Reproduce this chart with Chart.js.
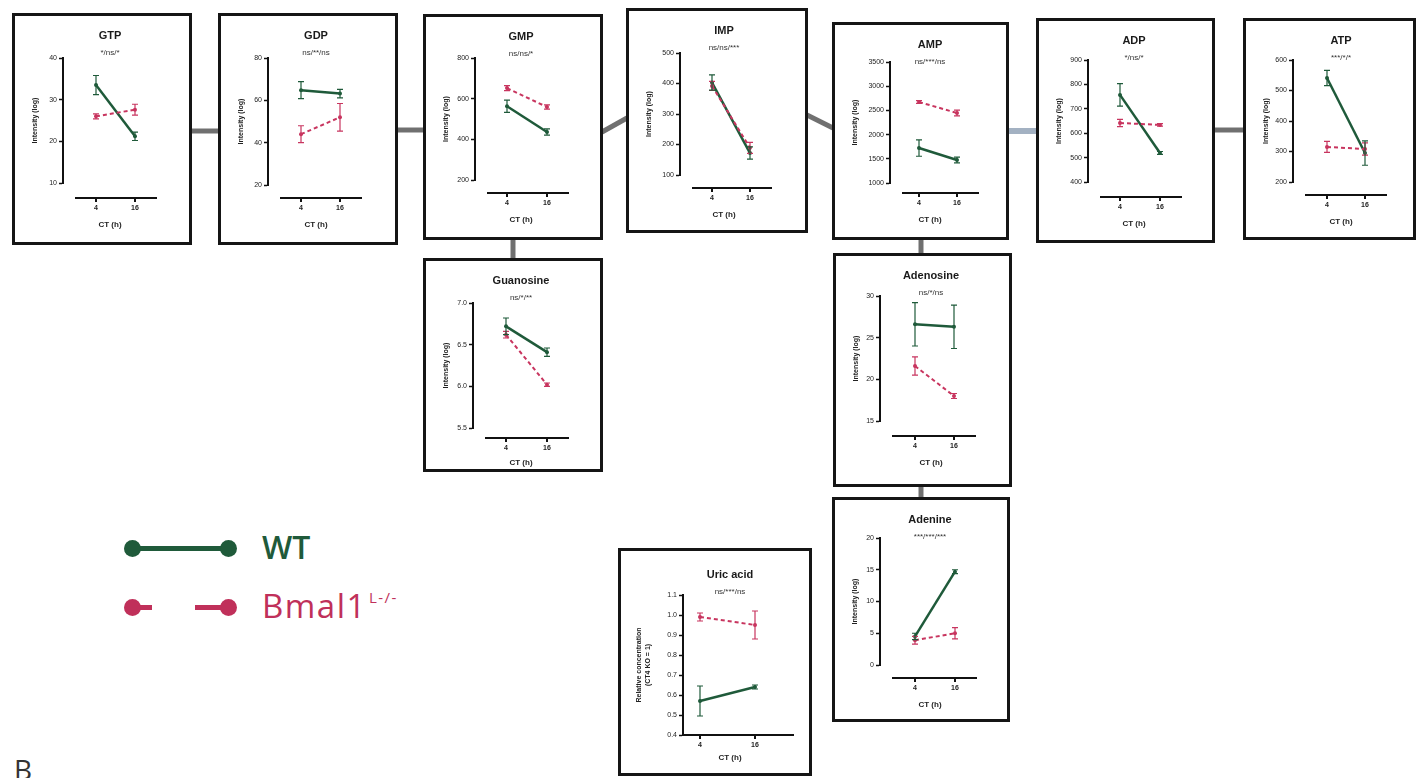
<!doctype html>
<html lang="en">
<head>
<meta charset="utf-8">
<title>Purine metabolites, WT vs Bmal1 KO</title>
<style>
  * { margin: 0; padding: 0; }
  body {
    width: 1424px; height: 778px; position: relative; overflow: hidden;
    background: #fff; font-family: Arial, "Liberation Sans", sans-serif;
  }
  .panel {
    position: absolute; box-sizing: border-box;
    border: 3px solid #151515; background: #fff;
  }
  .panel canvas { display: block; }
  #links { position: absolute; left: 0; top: 0; }
  .lgline { position: absolute; height: 5px; }
  .lgdot { position: absolute; width: 17px; height: 17px; border-radius: 50%; }
  .lgtext { position: absolute; font-family: "Open Sans", sans-serif; line-height: 1; white-space: nowrap; }
  .lgtext sup { font-size: 15px; vertical-align: 15px; margin-left: 2px; }
  .letter { position: absolute; left: 14px; top: 755px; font-family: "Open Sans", sans-serif; font-size: 28px; line-height: 1; color: #333; }
</style>
</head>
<body>

<svg id="links" width="1424" height="778">
  <g stroke="#707070" stroke-width="5">
    <line x1="192" y1="131" x2="219" y2="131"/>
    <line x1="397" y1="130" x2="424" y2="130"/>
    <line x1="602" y1="132" x2="627" y2="118"/>
    <line x1="807" y1="115" x2="833" y2="128"/>
    <line x1="1214" y1="130" x2="1244" y2="130"/>
    <line x1="513" y1="239" x2="513" y2="259"/>
    <line x1="921" y1="239" x2="921" y2="254"/>
    <line x1="921" y1="486" x2="921" y2="498"/>
  </g>
  <line x1="1008" y1="131" x2="1037" y2="131" stroke="#a3b1c2" stroke-width="6"/>
</svg>

<div id="panels"></div>

<!-- legend -->
<div class="lgline" style="left:133px; top:546px; width:95px; background:#1f5a3a"></div>
<div class="lgdot" style="left:124px; top:540px; background:#1f5a3a"></div>
<div class="lgdot" style="left:220px; top:540px; background:#1f5a3a"></div>
<div class="lgtext" style="left:262px; top:531px; font-size:32px; font-weight:600; color:#1f5a3a">WT</div>

<div class="lgline" style="left:133px; top:605px; width:19px; background:#c0305a"></div>
<div class="lgline" style="left:195px; top:605px; width:33px; background:#c0305a"></div>
<div class="lgdot" style="left:124px; top:599px; background:#c0305a"></div>
<div class="lgdot" style="left:220px; top:599px; background:#c0305a"></div>
<div class="lgtext" style="left:262px; top:589px; font-size:33px; letter-spacing:1.5px; color:#c0305a">Bmal1<sup>L-/-</sup></div>

<div class="letter">B</div>

<script src="https://cdn.jsdelivr.net/npm/chart.js"></script>
<script>
// ---- data ----
const hours = [4, 16];

const gtpTicks = [10, 20, 30, 40];
const gtpWT = [33.5, 21.2], gtpWTerr = [2.3, 1.0];
const gtpKO = [26.0, 27.6], gtpKOerr = [0.6, 1.3];

const gdpTicks = [20, 40, 60, 80];
const gdpWT = [64.8, 63.2], gdpWTerr = [4.0, 2.0];
const gdpKO = [44.0, 52.0], gdpKOerr = [4.0, 6.5];

const gmpTicks = [200, 400, 600, 800];
const gmpWT = [563, 436], gmpWTerr = [30, 15];
const gmpKO = [652, 559], gmpKOerr = [12, 10];

const impTicks = [100, 200, 300, 400, 500];
const impWT = [403, 172], impWTerr = [25, 20];
const impKO = [392, 189], impKOerr = [15, 18];

const ampTicks = [1000, 1500, 2000, 2500, 3000, 3500];
const ampWT = [1723, 1475], ampWTerr = [170, 60];
const ampKO = [2674, 2446], ampKOerr = [30, 60];

const adpTicks = [400, 500, 600, 700, 800, 900];
const adpWT = [757, 519], adpWTerr = [46, 6];
const adpKO = [642, 634], adpKOerr = [15, 5];

const atpTicks = [200, 300, 400, 500, 600];
const atpWT = [541, 295], atpWTerr = [25, 40];
const atpKO = [315, 308], atpKOerr = [18, 20];

const guoTicks = [5.5, 6.0, 6.5, 7.0];
const guoWT = [6.72, 6.41], guoWTerr = [0.10, 0.05];
const guoKO = [6.62, 6.02], guoKOerr = [0.04, 0.02];

const adoTicks = [15, 20, 25, 30];
const adoWT = [26.6, 26.3], adoWTerr = [2.6, 2.6];
const adoKO = [21.6, 18.0], adoKOerr = [1.1, 0.3];

const adeTicks = [0, 5, 10, 15, 20];
const adeWT = [4.5, 14.7], adeWTerr = [0.5, 0.3];
const adeKO = [3.9, 5.0], adeKOerr = [0.6, 0.9];

const uricTicks = [0.4, 0.5, 0.6, 0.7, 0.8, 0.9, 1.0, 1.1];
const uricWT = [0.57, 0.64], uricWTerr = [0.075, 0.01];
const uricKO = [0.99, 0.95], uricKOerr = [0.02, 0.07];

const WT_COLOR = '#1f5a3a';
const KO_COLOR = '#c8355f';

// panel boxes and inner geometry (canvas px)
const panels = [
  { title: 'GTP', sig: '*/ns/*', ticks: gtpTicks, dec: 0, wt: gtpWT, wtErr: gtpWTerr, ko: gtpKO, koErr: gtpKOerr,
    box: [12, 13, 180, 232], top: 42, bottom: 167, axX: 48, x4: 81, x16: 120, xGap: 15 },
  { title: 'GDP', sig: 'ns/**/ns', ticks: gdpTicks, dec: 0, wt: gdpWT, wtErr: gdpWTerr, ko: gdpKO, koErr: gdpKOerr,
    box: [218, 13, 180, 232], top: 42, bottom: 169, axX: 47, x4: 80, x16: 119, xGap: 13 },
  { title: 'GMP', sig: 'ns/ns/*', ticks: gmpTicks, dec: 0, wt: gmpWT, wtErr: gmpWTerr, ko: gmpKO, koErr: gmpKOerr,
    box: [423, 14, 180, 226], top: 41, bottom: 163, axX: 49, x4: 81, x16: 121, xGap: 13 },
  { title: 'IMP', sig: 'ns/ns/***', ticks: impTicks, dec: 0, wt: impWT, wtErr: impWTerr, ko: impKO, koErr: impKOerr,
    box: [626, 8, 182, 225], top: 42, bottom: 164, axX: 51, x4: 83, x16: 121, xGap: 13 },
  { title: 'AMP', sig: 'ns/***/ns', ticks: ampTicks, dec: 0, wt: ampWT, wtErr: ampWTerr, ko: ampKO, koErr: ampKOerr,
    box: [832, 22, 177, 218], top: 37, bottom: 158, axX: 55, x4: 84, x16: 122, xGap: 10 },
  { title: 'ADP', sig: '*/ns/*', ticks: adpTicks, dec: 0, wt: adpWT, wtErr: adpWTerr, ko: adpKO, koErr: adpKOerr,
    box: [1036, 18, 179, 225], top: 39, bottom: 161, axX: 49, x4: 81, x16: 121, xGap: 15 },
  { title: 'ATP', sig: '***/*/*', ticks: atpTicks, dec: 0, wt: atpWT, wtErr: atpWTerr, ko: atpKO, koErr: atpKOerr,
    box: [1243, 18, 173, 222], top: 39, bottom: 161, axX: 47, x4: 81, x16: 119, xGap: 13 },
  { title: 'Guanosine', sig: 'ns/*/**', ticks: guoTicks, dec: 1, wt: guoWT, wtErr: guoWTerr, ko: guoKO, koErr: guoKOerr,
    box: [423, 258, 180, 214], top: 42, bottom: 167, axX: 47, x4: 80, x16: 121, xGap: 10, ctGap: 25 },
  { title: 'Adenosine', sig: 'ns/*/ns', ticks: adoTicks, dec: 0, wt: adoWT, wtErr: adoWTerr, ko: adoKO, koErr: adoKOerr,
    box: [833, 253, 179, 234], top: 40, bottom: 165, axX: 44, x4: 79, x16: 118, xGap: 15 },
  { title: 'Adenine', sig: '***/***/***', ticks: adeTicks, dec: 0, wt: adeWT, wtErr: adeWTerr, ko: adeKO, koErr: adeKOerr,
    box: [832, 497, 178, 225], top: 38, bottom: 165, axX: 45, x4: 80, x16: 120, xGap: 13 },
  { title: 'Uric acid', sig: 'ns/***/ns', ticks: uricTicks, dec: 1, wt: uricWT, wtErr: uricWTerr, ko: uricKO, koErr: uricKOerr,
    box: [618, 548, 194, 228], top: 44, bottom: 184, axX: 62, x4: 79, x16: 134, xGap: 0, ctGap: 23,
    attached: true, titleX: 109, titleY: 24, padLeft: 14, yTitle: ['Relative concentration', '(CT4 KO = 1)'] }
];

Chart.defaults.font.family = 'Arial, "Liberation Sans", sans-serif';

// error bars + detached x axis + titles
const panelDecor = {
  id: 'panelDecor',
  afterDatasetsDraw(chart) {
    const { ctx, scales: { y } } = chart;
    chart.data.datasets.forEach((ds, di) => {
      const meta = chart.getDatasetMeta(di);
      ds.errors.forEach((e, i) => {
        const pt = meta.data[i];
        const v = ds.data[i].y;
        const hi = y.getPixelForValue(v + e), lo = y.getPixelForValue(v - e);
        ctx.save();
        ctx.strokeStyle = ds.borderColor;
        ctx.lineWidth = 1.2;
        ctx.beginPath();
        ctx.moveTo(pt.x, hi); ctx.lineTo(pt.x, lo);
        ctx.moveTo(pt.x - 3, hi); ctx.lineTo(pt.x + 3, hi);
        ctx.moveTo(pt.x - 3, lo); ctx.lineTo(pt.x + 3, lo);
        ctx.stroke();
        ctx.restore();
      });
    });
  },
  afterDraw(chart, args, opts) {
    const { ctx, chartArea, scales: { x } } = chart;
    const ly = chartArea.bottom + opts.xGap;
    ctx.save();
    ctx.strokeStyle = '#111';
    ctx.lineWidth = 2;
    ctx.beginPath();
    ctx.moveTo(x.getPixelForValue(opts.xFrom), ly);
    ctx.lineTo(x.getPixelForValue(opts.xTo), ly);
    hours.forEach(h => {
      const px = x.getPixelForValue(h);
      ctx.moveTo(px, ly);
      ctx.lineTo(px, ly + 4);
    });
    ctx.stroke();
    ctx.fillStyle = '#222';
    ctx.textAlign = 'center';
    ctx.textBaseline = 'middle';
    ctx.font = 'bold 7px Arial, "Liberation Sans", sans-serif';
    hours.forEach(h => ctx.fillText(String(h), x.getPixelForValue(h), ly + 10));
    ctx.font = 'bold 8px Arial, "Liberation Sans", sans-serif';
    ctx.fillText('CT (h)', opts.titleX, ly + opts.ctGap);
    ctx.font = 'bold 11px Arial, "Liberation Sans", sans-serif';
    ctx.fillStyle = '#1a1a1a';
    ctx.fillText(opts.title, opts.titleX, opts.titleY);
    ctx.font = '8px Arial, "Liberation Sans", sans-serif';
    ctx.fillStyle = '#333';
    ctx.fillText(opts.sig, opts.titleX, opts.titleY + 17);
    ctx.restore();
  }
};

const host = document.getElementById('panels');

panels.forEach(p => {
  const [bx, by, bw, bh] = p.box;
  const cw = bw - 6, ch = bh - 6;
  const box = document.createElement('div');
  box.className = 'panel';
  Object.assign(box.style, { left: bx + 'px', top: by + 'px', width: bw + 'px', height: bh + 'px' });
  const cv = document.createElement('canvas');
  cv.width = cw; cv.height = ch;
  box.appendChild(cv);
  host.appendChild(box);

  const padLeft = p.padLeft || 16;
  const right = cw - 15;
  const pph = (p.x16 - p.x4) / 12;            // px per hour
  const xMin = 4 - (p.x4 - p.axX) / pph;
  const xMax = xMin + (right - p.axX) / pph;
  const xFrom = p.attached ? xMin : xMin + 12 / pph;
  const xTo = p.attached ? xMax : 16 + 22 / pph;

  const toPts = arr => hours.map((h, i) => ({ x: h, y: arr[i] }));

  new Chart(cv, {
    type: 'line',
    data: {
      datasets: [
        { label: 'Bmal1 L-/-', data: toPts(p.ko), errors: p.koErr, borderColor: KO_COLOR, backgroundColor: KO_COLOR,
          borderWidth: 2, borderDash: [4, 3], pointRadius: 2, pointBorderWidth: 0 },
        { label: 'WT', data: toPts(p.wt), errors: p.wtErr, borderColor: WT_COLOR, backgroundColor: WT_COLOR,
          borderWidth: 2.5, pointRadius: 2, pointBorderWidth: 0 }
      ]
    },
    options: {
      responsive: false,
      animation: false,
      layout: { padding: { left: padLeft, top: p.top, right: cw - right, bottom: ch - p.bottom } },
      scales: {
        x: { type: 'linear', min: xMin, max: xMax, display: false },
        y: {
          min: p.ticks[0], max: p.ticks[p.ticks.length - 1],
          afterBuildTicks: ax => { ax.ticks = p.ticks.map(v => ({ value: v })); },
          afterFit: ax => { ax.width = p.axX - padLeft; },
          border: { display: true, color: '#111', width: 2 },
          grid: { drawOnChartArea: false, drawTicks: true, tickLength: 4, tickWidth: 1.5, tickColor: '#111' },
          ticks: { font: { size: 7 }, color: '#222', padding: 2, callback: v => Number(v).toFixed(p.dec) },
          title: { display: true, text: p.yTitle || 'Intensity (log)', color: '#222',
                   font: { size: 7, weight: 'bold' }, padding: { top: 0, bottom: 1 } }
        }
      },
      plugins: {
        legend: { display: false },
        tooltip: { enabled: false },
        panelDecor: { title: p.title, sig: p.sig, xGap: p.xGap, xFrom, xTo,
                      titleX: p.titleX || 95, titleY: p.titleY || 20, ctGap: p.ctGap || 27 }
      }
    },
    plugins: [panelDecor]
  });
});
</script>
</body>
</html>
